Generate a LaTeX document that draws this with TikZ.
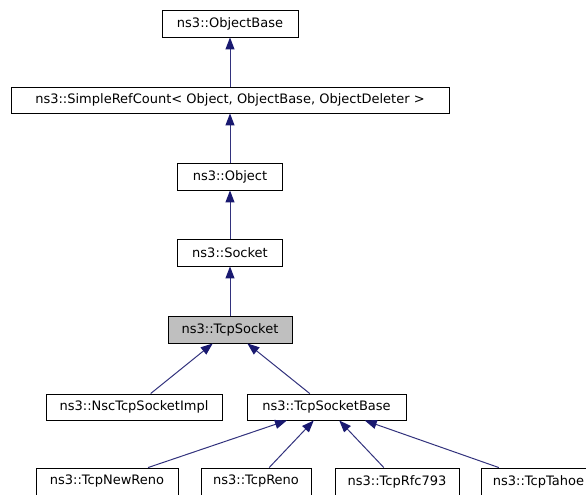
\documentclass[tikz,border=0pt]{standalone}
\usepackage{fontspec}
\setmainfont{DejaVu Sans}
\usetikzlibrary{arrows.meta}
\definecolor{midnight}{RGB}{25,25,112}
\definecolor{edgecol}{RGB}{50,50,125}
\definecolor{grayfill}{RGB}{191,191,191}
\tikzset{
  cls/.style={draw=black, line width=0.9pt, fill=white, inner sep=0pt, minimum height=27pt,
              font=\fontsize{13}{15}\selectfont, align=center},
  hl/.style={fill=grayfill},
  edge/.style={draw=edgecol, line width=1pt, -{Triangle[length=12pt,width=9pt,color=midnight,fill=midnight]}}
}
\begin{document}
\begin{tikzpicture}[x=1pt,y=-1pt]
\useasboundingbox (0,0) rectangle (586,495);
\clip (0,0) rectangle (586,495);
\node[cls, minimum width=136pt] (ob) at (230,23.5) {ns3::ObjectBase};
\node[cls, minimum width=438pt, minimum height=26pt] (src) at (230,100) {ns3::SimpleRefCount< Object, ObjectBase, ObjectDeleter >};
\node[cls, minimum width=105pt] (obj) at (230,176.5) {ns3::Object};
\node[cls, minimum width=105pt] (sock) at (230,252.5) {ns3::Socket};
\node[cls, hl, minimum width=124pt] (tcps) at (230,329.5) {ns3::TcpSocket};
\node[cls, minimum width=176pt, minimum height=26pt] (nsc) at (134,407) {ns3::NscTcpSocketImpl};
\node[cls, minimum width=159pt, minimum height=26pt] (tsb) at (326.5,407) {ns3::TcpSocketBase};
\node[cls, minimum width=142pt] (nr) at (107,481.5) {ns3::TcpNewReno};
\node[cls, minimum width=110pt] (reno) at (256,481.5) {ns3::TcpReno};
\node[cls, minimum width=124pt] (rfc) at (397,481.5) {ns3::TcpRfc793};
\node[cls, minimum width=115pt] (tahoe) at (538.5,481.5) {ns3::TcpTahoe};
\draw[edge] (src) -- (ob);
\draw[edge] (obj) -- (src);
\draw[edge] (sock) -- (obj);
\draw[edge] (tcps) -- (sock);
\draw[edge] (nsc) -- (tcps);
\draw[edge] (tsb) -- (tcps);
\draw[edge] (nr) -- (tsb);
\draw[edge] (reno) -- (tsb);
\draw[edge] (rfc) -- (tsb);
\draw[edge] (tahoe) -- (tsb);
\end{tikzpicture}
\end{document}
